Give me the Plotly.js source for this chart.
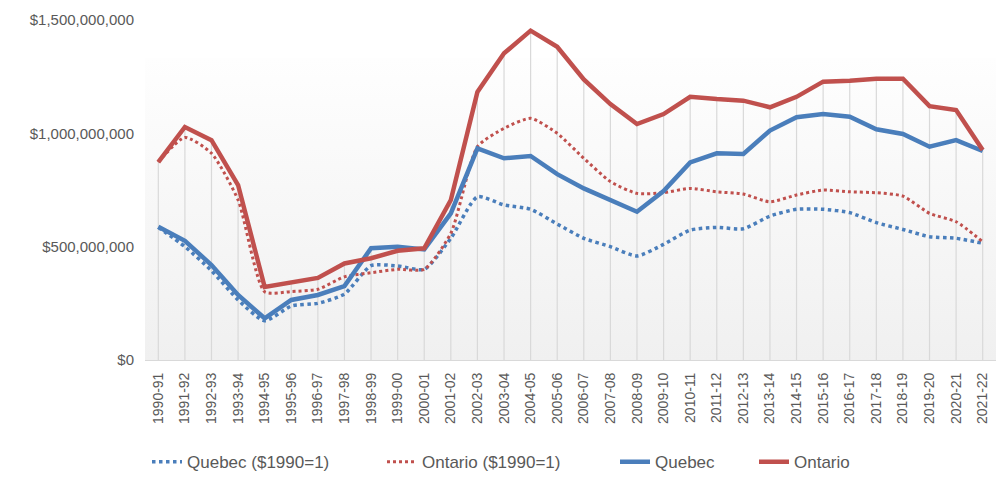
<!DOCTYPE html>
<html>
<head>
<meta charset="utf-8">
<script src="https://cdn.plot.ly/plotly-3.0.1.min.js"></script>
<style>
html,body{margin:0;padding:0;background:#fff;}
#chart{width:1000px;height:477px;}
</style>
</head>
<body>
<div id="chart"></div>
<script>
var years = ["1990-91","1991-92","1992-93","1993-94","1994-95","1995-96","1996-97","1997-98","1998-99","1999-00","2000-01","2001-02","2002-03","2003-04","2004-05","2005-06","2006-07","2007-08","2008-09","2009-10","2010-11","2011-12","2012-13","2013-14","2014-15","2015-16","2016-17","2017-18","2018-19","2019-20","2020-21","2021-22"];

var quebecReal = [585e6,500e6,394e6,265e6,173e6,238e6,250e6,291e6,416e6,415e6,400e6,537e6,720e6,684e6,665e6,600e6,537e6,500e6,459e6,510e6,573e6,585e6,579e6,635e6,665e6,665e6,650e6,606e6,576e6,544e6,537e6,515e6];
var ontarioReal = [873e6,982e6,912e6,706e6,301e6,302e6,312e6,367e6,385e6,400e6,400e6,559e6,941e6,1022e6,1066e6,1000e6,890e6,787e6,735e6,738e6,757e6,742e6,732e6,698e6,728e6,750e6,742e6,738e6,723e6,647e6,610e6,522e6];
var quebecNominal = [588e6,526e6,419e6,287e6,184e6,265e6,287e6,326e6,493e6,500e6,488e6,647e6,934e6,890e6,900e6,820e6,757e6,706e6,654e6,745e6,872e6,912e6,909e6,1012e6,1071e6,1085e6,1073e6,1018e6,997e6,941e6,970e6,922e6];
var ontarioNominal = [873e6,1028e6,970e6,772e6,322e6,340e6,362e6,426e6,449e6,482e6,493e6,706e6,1183e6,1353e6,1453e6,1382e6,1238e6,1129e6,1041e6,1085e6,1161e6,1151e6,1144e6,1115e6,1161e6,1228e6,1232e6,1241e6,1241e6,1120e6,1103e6,926e6];

var yTickVals = [0, 500e6, 1000e6, 1500e6];
var yTickText = ["$0", "$500,000,000", "$1,000,000,000", "$1,500,000,000"];

var seriesNames = ["Quebec ($1990=1)", "Ontario ($1990=1)", "Quebec", "Ontario"];

var BLUE = "#4a7ebb";
var RED = "#c0504d";
var FONT = "Liberation Sans, Arial, sans-serif";

// drop lines: from the highest series value at each category down to the axis
var dropTop = years.map(function (_, i) {
  return Math.max(quebecReal[i], ontarioReal[i], quebecNominal[i], ontarioNominal[i]);
});

var traces = [
  {x: years, y: dropTop, mode: "markers", marker: {size: 0, opacity: 0}, showlegend: false, hoverinfo: "skip",
   error_y: {type: "data", symmetric: false, array: dropTop.map(function () { return 0; }), arrayminus: dropTop,
             color: "#d9d9d9", thickness: 1.2, width: 0}},
  {x: years, y: quebecReal, name: seriesNames[0], mode: "lines", legend: "legend", line: {color: BLUE, width: 3.5, dash: "dot", shape: "spline", smoothing: 0.6}},
  {x: years, y: ontarioReal, name: seriesNames[1], mode: "lines", legend: "legend", line: {color: RED, width: 3, dash: "dot", shape: "spline", smoothing: 0.6}},
  {x: years, y: quebecNominal, name: seriesNames[2], mode: "lines", legend: "legend2", line: {color: BLUE, width: 4.5}},
  {x: years, y: ontarioNominal, name: seriesNames[3], mode: "lines", legend: "legend2", line: {color: RED, width: 4.5}}
];

var grad = 'data:image/svg+xml;utf8,' + encodeURIComponent(
  '<svg xmlns="http://www.w3.org/2000/svg" width="100" height="100" preserveAspectRatio="none">' +
  '<defs><linearGradient id="g" x1="0" y1="0" x2="0" y2="1">' +
  '<stop offset="0" stop-color="#fefefe"/><stop offset="1" stop-color="#f0f0f0"/></linearGradient></defs>' +
  '<rect width="100" height="100" fill="url(#g)"/></svg>');

var legendFont = {family: FONT, size: 17, color: "#595959"};

var layout = {
  width: 1000, height: 477,
  margin: {l: 145, r: 4, t: 20, b: 117, autoexpand: false},
  paper_bgcolor: "#ffffff",
  plot_bgcolor: "rgba(0,0,0,0)",
  font: {family: FONT, color: "#595959", size: 14},
  showlegend: true,
  legend: {orientation: "h", xref: "container", yref: "container", x: 0.147, xanchor: "left",
           y: 0.031, yanchor: "middle", entrywidth: 190, entrywidthmode: "pixels",
           font: legendFont, traceorder: "normal", bgcolor: "rgba(0,0,0,0)"},
  legend2: {orientation: "h", xref: "container", yref: "container", x: 0.615, xanchor: "left",
           y: 0.031, yanchor: "middle", entrywidth: 94, entrywidthmode: "pixels",
           font: legendFont, traceorder: "normal", bgcolor: "rgba(0,0,0,0)"},
  xaxis: {
    type: "category",
    range: [-0.5, 31.5],
    tickangle: -90,
    automargin: false,
    showgrid: false,
    showline: true, linecolor: "#d9d9d9", linewidth: 1,
    ticks: "", ticklabelstandoff: 6,
    tickfont: {family: FONT, size: 14, color: "#595959"},
    zeroline: false,
    fixedrange: true
  },
  yaxis: {
    range: [0, 1500e6],
    automargin: false,
    tickvals: yTickVals, ticktext: yTickText,
    showgrid: false, zeroline: false, showline: false,
    ticks: "", ticklabelstandoff: 10,
    tickfont: {family: FONT, size: 15, color: "#595959"},
    fixedrange: true
  },
  images: [{
    source: grad, xref: "paper", yref: "paper",
    x: 0, y: 0.888, sizex: 1, sizey: 0.888,
    xanchor: "left", yanchor: "top", sizing: "stretch", layer: "below"
  }]
};

Plotly.newPlot("chart", traces, layout, {displayModeBar: false, staticPlot: true});
</script>
</body>
</html>
